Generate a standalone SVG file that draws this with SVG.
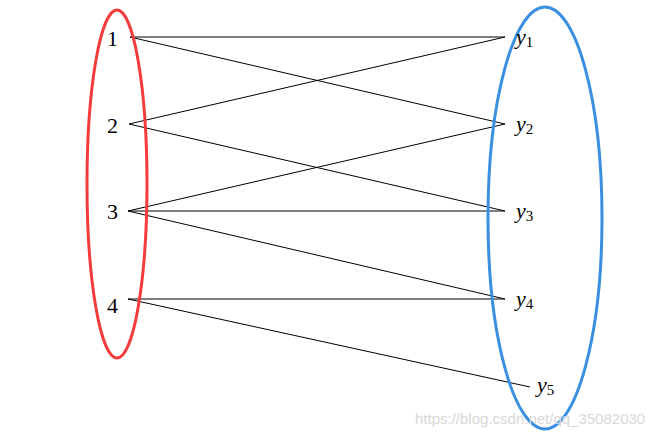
<svg xmlns="http://www.w3.org/2000/svg" width="667" height="436" viewBox="0 0 667 436">
<style>
.num{font-family:"Liberation Serif",serif;font-size:22px;fill:#000}
.y{font-family:"Liberation Serif",serif;font-size:22px;font-style:italic;fill:#000}
.sub{font-family:"Liberation Serif",serif;font-size:15px;font-style:normal}
#edges line{stroke:#000;stroke-width:1}
.wm{font-family:"Liberation Sans",sans-serif;font-size:15px;fill:#d8d8d8}
</style>
<rect width="667" height="436" fill="#fff"/>
<g id="edges">
<line x1="130" y1="37" x2="505" y2="37"/>
<line x1="130" y1="37" x2="505" y2="124"/>
<line x1="129" y1="124" x2="505" y2="37"/>
<line x1="129" y1="124" x2="505" y2="211"/>
<line x1="128" y1="211" x2="505" y2="124"/>
<line x1="128" y1="211" x2="505" y2="211"/>
<line x1="128" y1="211" x2="505" y2="299"/>
<line x1="128" y1="299" x2="505" y2="299"/>
<line x1="128" y1="299" x2="530" y2="387"/>
</g>
<g id="left-set">
<ellipse cx="117" cy="184" rx="30" ry="174" fill="none" stroke="#f53c3c" stroke-width="3"/>
<text class="num" x="107" y="46">1</text>
<text class="num" x="107" y="133">2</text>
<text class="num" x="107" y="219">3</text>
<text class="num" x="107" y="313">4</text>
</g>
<g id="right-set">
<ellipse cx="545" cy="218" rx="57" ry="211" fill="none" stroke="#3b8fe0" stroke-width="3"/>
<text class="y" x="516" y="44">y<tspan class="sub" dy="3">1</tspan></text>
<text class="y" x="516" y="131">y<tspan class="sub" dy="3">2</tspan></text>
<text class="y" x="516" y="218">y<tspan class="sub" dy="3">3</tspan></text>
<text class="y" x="516" y="306">y<tspan class="sub" dy="3">4</tspan></text>
<text class="y" x="537" y="392">y<tspan class="sub" dy="3">5</tspan></text>
</g>
<text class="wm" x="415" y="424">https://blog.csdn.net/qq_35082030</text>
</svg>
